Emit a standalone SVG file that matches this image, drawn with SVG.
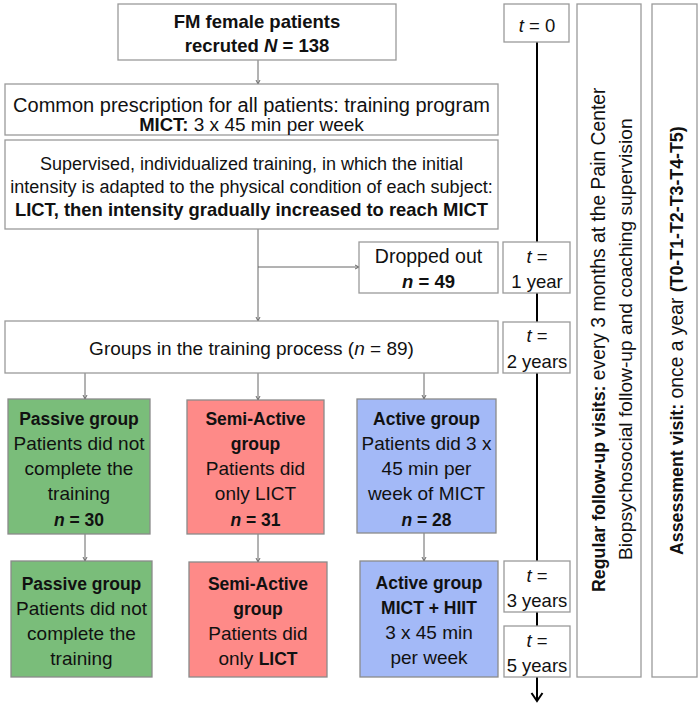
<svg xmlns="http://www.w3.org/2000/svg" width="700" height="707" viewBox="0 0 700 707">
<defs>
<style>
text{font-family:"Liberation Sans",Arial,sans-serif;fill:#111;text-anchor:middle}
.box{fill:#fff;stroke:#9a9a9a;stroke-width:1.3}
.g{fill:#7abd7a;stroke:#8a8a8a;stroke-width:1.3}
.r{fill:#fe8a88;stroke:#8a8a8a;stroke-width:1.3}
.b{fill:#a3b9f7;stroke:#8a8a8a;stroke-width:1.3}
.c{stroke:#666;stroke-width:1;fill:none;marker-end:url(#ah)}
.bo{font-weight:bold}
.it{font-style:italic}
.f19{font-size:19px}
.f18{font-size:18px}
.fb{font-size:17.5px;font-weight:bold}
.fr{font-size:19px}
.ft{font-size:18.5px}
.rot{text-anchor:start}
</style>
<marker id="ah" markerWidth="6" markerHeight="6" refX="5" refY="3" orient="auto" markerUnits="userSpaceOnUse">
<path d="M1,1 L5,3 L1,5" fill="none" stroke="#666" stroke-width="1"/>
</marker>
<marker id="bh" markerWidth="14" markerHeight="14" refX="10" refY="7" orient="auto" markerUnits="userSpaceOnUse">
<path d="M2,1.5 L10,7 L2,12.5" fill="none" stroke="#000" stroke-width="2"/>
</marker>
</defs>
<rect width="700" height="707" fill="#fff"/>

<g id="connectors">
<line class="c" x1="258" y1="60" x2="258" y2="84"/>
<line class="c" x1="258" y1="229" x2="258" y2="321"/>
<line class="c" x1="258" y1="267" x2="359" y2="267"/>
<line class="c" x1="85" y1="373" x2="85" y2="399"/>
<line class="c" x1="258" y1="373" x2="258" y2="400"/>
<line class="c" x1="424" y1="373" x2="424" y2="399"/>
<line class="c" x1="85" y1="534" x2="85" y2="561"/>
<line class="c" x1="258" y1="534" x2="258" y2="562"/>
<line class="c" x1="424" y1="533" x2="424" y2="561"/>
<line x1="537" y1="42" x2="537" y2="701" stroke="#000" stroke-width="2" marker-end="url(#bh)"/>
</g>

<g id="recruited">
<rect class="box" x="118" y="4" width="278" height="56"/>
<text x="257" y="28" class="bo" font-size="18.5">FM female patients</text>
<text x="257" y="52" class="bo" font-size="18.5">recruted <tspan class="it">N</tspan> = 138</text>
</g>

<g id="prescription">
<rect class="box" x="5" y="84" width="493" height="51"/>
<text x="251.5" y="112" font-size="20">Common prescription for all patients: training program</text>
<text x="251.5" y="131" font-size="19"><tspan class="bo" font-size="18.5">MICT:</tspan> 3 x 45 min per week</text>
</g>

<g id="supervised">
<rect class="box" x="5" y="140" width="493" height="89"/>
<text x="251.5" y="170" class="f18">Supervised, individualized training, in which the initial</text>
<text x="251.5" y="193" class="f18">intensity is adapted to the physical condition of each subject:</text>
<text x="251.5" y="216" class="bo" font-size="18.4">LICT, then intensity gradually increased to reach MICT</text>
</g>

<g id="dropped">
<rect class="box" x="359" y="242" width="139" height="51"/>
<text x="428.5" y="263" font-size="19.5">Dropped out</text>
<text x="428.5" y="288" class="bo" font-size="18.5"><tspan class="it">n</tspan> = 49</text>
</g>

<g id="groups">
<rect class="box" x="5" y="321" width="493" height="52"/>
<text x="251.5" y="355" class="f19">Groups in the training process (<tspan class="it">n</tspan> = 89)</text>
</g>

<g id="passive1">
<rect class="g" x="8" y="399" width="142" height="135"/>
<text x="79" y="425" class="fb">Passive group</text>
<text x="79" y="450" class="fr">Patients did not</text>
<text x="79" y="475" class="fr">complete the</text>
<text x="79" y="500" class="fr">training</text>
<text x="79" y="526" class="fb"><tspan class="it">n</tspan> = 30</text>
</g>

<g id="semiactive1">
<rect class="r" x="187" y="400" width="137" height="134"/>
<text x="255.5" y="425" class="fb">Semi-Active</text>
<text x="255.5" y="450" class="fb">group</text>
<text x="255.5" y="475" class="fr">Patients did</text>
<text x="255.5" y="500" class="fr">only LICT</text>
<text x="255.5" y="526" class="fb"><tspan class="it">n</tspan> = 31</text>
</g>

<g id="active1">
<rect class="b" x="357" y="399" width="139" height="134"/>
<text x="426.5" y="425" class="fb">Active group</text>
<text x="426.5" y="450" class="fr">Patients did 3 x</text>
<text x="426.5" y="475" class="fr">45 min per</text>
<text x="426.5" y="500" class="fr">week of MICT</text>
<text x="426.5" y="526" class="fb"><tspan class="it">n</tspan> = 28</text>
</g>

<g id="passive2">
<rect class="g" x="11" y="561" width="141" height="116"/>
<text x="81.5" y="590" class="fb">Passive group</text>
<text x="81.5" y="615" class="fr">Patients did not</text>
<text x="81.5" y="640" class="fr">complete the</text>
<text x="81.5" y="665" class="fr">training</text>
</g>

<g id="semiactive2">
<rect class="r" x="189" y="562" width="138" height="115"/>
<text x="258" y="590" class="fb">Semi-Active</text>
<text x="258" y="615" class="fb">group</text>
<text x="258" y="640" class="fr">Patients did</text>
<text x="258" y="665" class="fr">only <tspan class="bo" font-size="17.5">LICT</tspan></text>
</g>

<g id="active2">
<rect class="b" x="360" y="561" width="138" height="116"/>
<text x="429" y="589" class="fb">Active group</text>
<text x="429" y="614" class="fb">MICT + HIIT</text>
<text x="429" y="639" class="fr">3 x 45 min</text>
<text x="429" y="664" class="fr">per week</text>
</g>

<g id="t0">
<rect class="box" x="504" y="4" width="65" height="38"/>
<text x="537" y="32" class="ft"><tspan class="it">t</tspan> = 0</text>
</g>
<g id="t1">
<rect class="box" x="503" y="242" width="67" height="51"/>
<text x="537" y="263" class="ft"><tspan class="it">t</tspan> =</text>
<text x="537" y="288" class="ft">1 year</text>
</g>
<g id="t2">
<rect class="box" x="503" y="322" width="67" height="51"/>
<text x="537" y="342" class="ft"><tspan class="it">t</tspan> =</text>
<text x="537" y="368" class="ft">2 years</text>
</g>
<g id="t3">
<rect class="box" x="504" y="561" width="66" height="51"/>
<text x="537" y="582" class="ft"><tspan class="it">t</tspan> =</text>
<text x="537" y="607" class="ft">3 years</text>
</g>
<g id="t5">
<rect class="box" x="504" y="626" width="66" height="51"/>
<text x="537" y="647" class="ft"><tspan class="it">t</tspan> =</text>
<text x="537" y="672" class="ft">5 years</text>
</g>

<g id="followup">
<rect class="box" x="577" y="4" width="64" height="673"/>
<text class="rot" transform="translate(605,592) rotate(-90)"><tspan class="bo" font-size="17.8">Regular follow-up visits:</tspan><tspan font-size="19.3"> every 3 months at the Pain Center</tspan></text>
<text class="rot" transform="translate(632,560) rotate(-90)" font-size="19.2">Biopsychosocial follow-up and coaching supervision</text>
</g>

<g id="assessment">
<rect class="box" x="652" y="4" width="45" height="673"/>
<text class="rot" transform="translate(683,555) rotate(-90)"><tspan class="bo" font-size="17.8">Assessment visit:</tspan><tspan font-size="19.3"> once a year </tspan><tspan class="bo" font-size="17.8">(T0-T1-T2-T3-T4-T5)</tspan></text>
</g>
</svg>
